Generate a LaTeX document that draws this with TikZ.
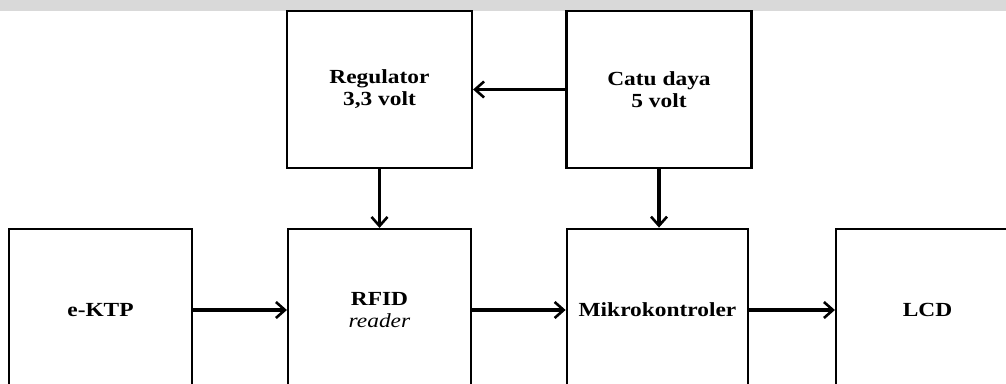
\documentclass[tikz,border=0pt]{standalone}
\usepackage{fontspec}
\setmainfont{Liberation Serif}[FakeStretch=1.17]
\usetikzlibrary{arrows.meta}
\definecolor{band}{HTML}{D9D9D9}
\tikzset{
  blk/.style={draw=black, line width=2.2pt, fill=white, inner sep=0pt,
    align=center, font=\fontsize{20}{22}\selectfont\bfseries},
  topblk/.style={blk, minimum width=185pt, minimum height=157pt},
  botblk/.style={blk, minimum width=183pt, minimum height=162pt},
  arr/.style={line width=3.2pt, -{Straight Barb[length=9pt,width=16pt,line width=2.6pt]}}
}
\begin{document}
\begin{tikzpicture}[x=1pt,y=-1pt]
\useasboundingbox (0,0) rectangle (1006,383);
\clip (0,0) rectangle (1006,383);
\fill[band] (0,0) rectangle (1006,10.5);
\node[topblk] (reg) at (379.5,89.5) {Regulator\\3,3 volt};
\node[topblk, line width=2.8pt] (cat) at (659,89.5) {Catu daya\\5 volt};
\node[botblk] (ektp) at (100.5,310) {e-KTP};
\node[botblk] (rfid) at (379.5,310) {RFID\\\textit{\mdseries reader}};
\node[botblk, minimum width=181pt, line width=2.8pt] (mik) at (657.5,310) {Mikrokontroler};
\node[botblk] (lcd) at (927.5,310) {LCD};
\draw[arr] (cat.west) -- (reg.east);
\draw[arr] (reg.south) -- (rfid.north);
\draw[arr] (cat.south) -- (cat.south |- mik.north);
\draw[arr] (ektp.east) -- (rfid.west);
\draw[arr] (rfid.east) -- (mik.west);
\draw[arr] (mik.east) -- (lcd.west);
\end{tikzpicture}
\end{document}
